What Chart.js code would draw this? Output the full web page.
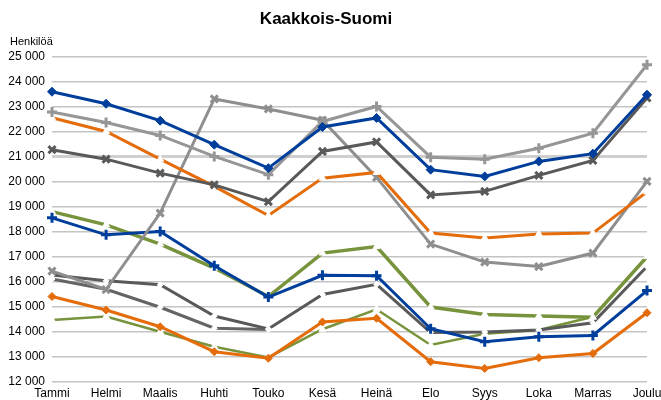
<!DOCTYPE html>
<html lang="fi">
<head>
  <meta charset="UTF-8" />
  <title>Kaakkois-Suomi</title>
  <script src="https://cdn.jsdelivr.net/npm/chart.js"></script>
  <style>
body {
  margin: 0;
  background: #ffffff;
  font-family: 'Liberation Sans', Arial, sans-serif;
}

.kaavio {
  position: relative;
  width: 661px;
  height: 400px;
}
  </style>
</head>
<body>
<div class="kaavio">
  <canvas id="kuvaaja" width="661" height="400"></canvas>
</div>

<script>
// Kuukaudet ja sarjat (luettu kuvasta)
const kuukaudet = ['Tammi', 'Helmi', 'Maalis', 'Huhti', 'Touko', 'Kesä', 'Heinä', 'Elo', 'Syys', 'Loka', 'Marras', 'Joulu'];

const sininenYla = [23610, 23130, 22450, 21490, 20550, 22200, 22560, 20490, 20220, 20820, 21130, 23490];
const harmaaYla = [22800, 22380, 21860, 21020, 20290, 22420, 23020, 20990, 20910, 21350, 21950, 24690];
const oranssiYla = [22570, 22020, 20910, 19820, 18650, 20150, 20380, 17950, 17750, 17910, 17950, 19600];
const tummaYla = [21290, 20910, 20350, 19880, 19210, 21220, 21600, 19480, 19620, 20260, 20860, 23360];
const harmaaHyppy = [16430, 15690, 18750, 23320, 22920, 22470, 20180, 17510, 16790, 16610, 17150, 20020];
const vihreaYla = [18810, 18280, 17510, 16550, 15410, 17150, 17410, 14990, 14690, 14630, 14580, 17010];
const sininenAla = [18560, 17880, 18010, 16640, 15390, 16260, 16240, 14120, 13600, 13800, 13850, 15650];
const tummaAlaA = [16270, 16040, 15880, 14630, 14110, 15490, 15900, 13970, 13990, 14070, 14360, 16610];
const tummaAlaB = [16110, 15700, 14980, 14140, 14090, null, null, null, null, null, null, null];
const oranssiAla = [15410, 14870, 14200, 13200, 12940, 14390, 14540, 12800, 12530, 12960, 13130, 14760];
const vihreaAla = [14470, 14610, 14000, 13400, 12970, 14100, 14900, 13470, 13920, 14070, 14600, 16980];

const yMin = 12000;
const yMax = 25000;
const yAskel = 1000;

const SININEN = '#003e9c';
const ORANSSI = '#e46c0a';
const HARMAA = '#969696';
const TUMMA = '#595959';
const VIHREA = '#77933c';

// Otsikko ja y-akselin nimi piirretään itse, jotta piirtoalue pysyy paikallaan
const otsikot = {
  id: 'otsikot',
  afterDraw(chart) {
    const { ctx } = chart;
    ctx.save();
    ctx.fillStyle = '#000000';
    ctx.textBaseline = 'alphabetic';
    ctx.font = "bold 17px 'Liberation Sans', Arial, sans-serif";
    ctx.textAlign = 'center';
    ctx.fillText('Kaakkois-Suomi', 326, 24);
    ctx.font = "11px 'Liberation Sans', Arial, sans-serif";
    ctx.textAlign = 'left';
    ctx.fillText('Henkilöä', 10, 45);
    ctx.restore();
  }
};

function sarja(data, vari, leveys, tyyli, koko, tayte, reuna, reunaLeveys) {
  return {
    data: data,
    borderColor: vari,
    borderWidth: leveys,
    pointStyle: tyyli,
    pointRadius: koko,
    pointBackgroundColor: tayte,
    pointBorderColor: reuna,
    pointBorderWidth: reunaLeveys,
    tension: 0,
    spanGaps: false
  };
}

const ctx = document.getElementById('kuvaaja').getContext('2d');

new Chart(ctx, {
  type: 'line',
  data: {
    labels: kuukaudet,
    datasets: [
      sarja(sininenYla, SININEN, 3, 'rectRot', 4.5, SININEN, SININEN, 1),
      sarja(harmaaYla, HARMAA, 3, 'cross', 5, HARMAA, HARMAA, 3),
      sarja(tummaYla, TUMMA, 3, 'crossRot', 5, TUMMA, TUMMA, 3),
      sarja(oranssiYla, ORANSSI, 3, 'triangle', 4, '#ffffff', '#ffffff', 1),
      sarja(harmaaHyppy, '#8e8e8e', 3, 'crossRot', 5, '#8e8e8e', '#8e8e8e', 3),
      sarja(sininenAla, SININEN, 3, 'cross', 5, SININEN, SININEN, 3),
      sarja(vihreaYla, VIHREA, 3.5, 'triangle', 4, '#ffffff', '#ffffff', 1),
      sarja(tummaAlaA, TUMMA, 3, 'rectRot', 3, '#ffffff', '#ffffff', 1),
      sarja(tummaAlaB, '#646464', 3, 'rectRot', 3, '#ffffff', '#ffffff', 1),
      sarja(oranssiAla, ORANSSI, 3, 'rectRot', 4, ORANSSI, ORANSSI, 1),
      sarja(vihreaAla, VIHREA, 2.5, 'triangle', 4, '#ffffff', '#ffffff', 1)
    ]
  },
  options: {
    responsive: false,
    animation: false,
    devicePixelRatio: 1,
    layout: {
      padding: { top: 57, right: 14, bottom: 0, left: 0 }
    },
    plugins: {
      legend: { display: false },
      title: { display: false },
      tooltip: { enabled: false }
    },
    scales: {
      x: {
        offset: false,
        grid: { display: false, drawTicks: false },
        border: { display: false },
        ticks: {
          color: '#000000',
          padding: 5,
          autoSkip: false,
          maxRotation: 0,
          font: { family: "'Liberation Sans', Arial, sans-serif", size: 12 }
        },
        afterFit: (scale) => {
          scale.height = 18.3;
          scale.paddingLeft = 0;
          scale.paddingRight = 0;
        }
      },
      y: {
        min: yMin,
        max: yMax,
        grid: {
          drawTicks: false,
          color: (c) => c.tick && c.tick.value === 21000 ? '#cfcfcf' : '#c4c4c4',
          lineWidth: (c) => c.tick && c.tick.value === 21000 ? 3 : 1.5
        },
        border: { display: false },
        ticks: {
          stepSize: yAskel,
          autoSkip: false,
          color: '#000000',
          padding: 7,
          font: { family: "'Liberation Sans', Arial, sans-serif", size: 12 },
          callback: (v) => String(v).replace(/\B(?=(\d{3})+(?!\d))/g, ' ')
        },
        afterFit: (scale) => {
          scale.width = 52;
        }
      }
    }
  },
  plugins: [otsikot]
});
</script>

</body>
</html>
